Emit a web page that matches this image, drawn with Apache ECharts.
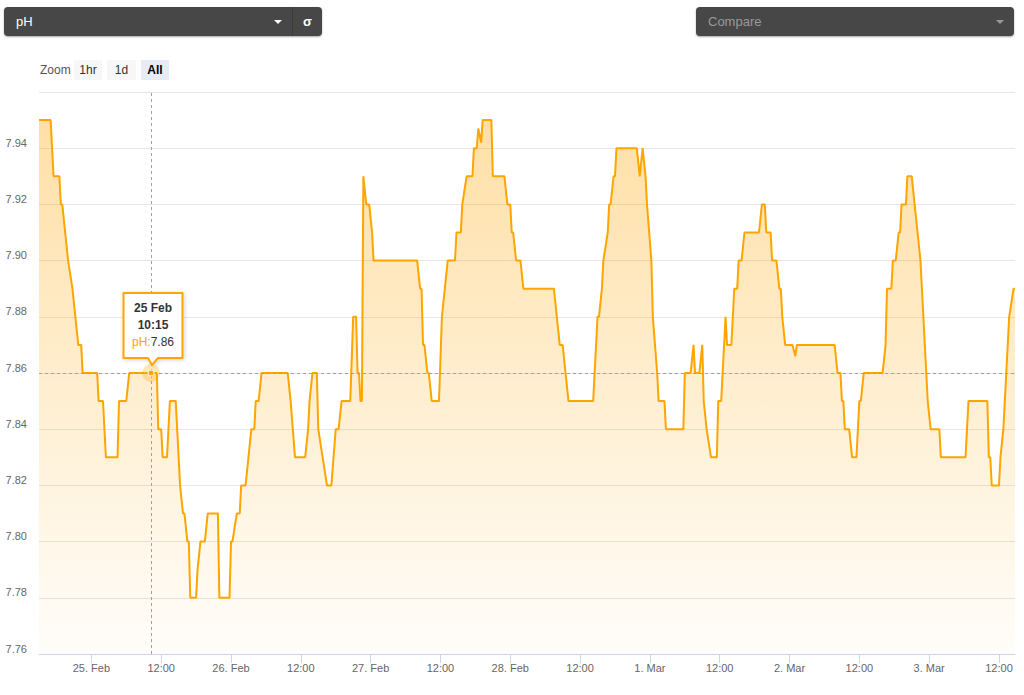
<!DOCTYPE html>
<html>
<head>
<meta charset="utf-8">
<script src="https://cdn.jsdelivr.net/npm/echarts@6/dist/echarts.min.js"></script>
<style>
html,body{margin:0;padding:0;background:#fff;width:1024px;height:695px;overflow:hidden;font-family:"Liberation Sans",Arial,Helvetica,sans-serif;}
#chart{position:absolute;left:0;top:0;width:1024px;height:695px;}
.sel{position:absolute;top:7px;height:29px;width:318px;background:#474747;border-radius:4px;box-shadow:0 1px 2px rgba(0,0,0,0.35);font-size:13px;line-height:29px;z-index:5;}
.sel .txt{position:absolute;left:12px;top:0;}
.caret{position:absolute;top:13px;width:0;height:0;border-left:4px solid transparent;border-right:4px solid transparent;border-top:4px solid #fff;}
.sep{position:absolute;top:0;width:1px;height:29px;background:#3b3b3b;}
.zoomlbl{position:absolute;left:40px;top:62px;font-size:12px;color:#555;z-index:5;line-height:16px;}
.btn{position:absolute;top:60px;height:20px;line-height:20px;font-size:12px;text-align:center;background:#f7f7f7;color:#333;z-index:5;}
</style>
</head>
<body>
<div id="chart"></div>
<div class="sel" style="left:4px;">
  <span class="txt" style="color:#fff;">pH</span>
  <span class="caret" style="left:270px;"></span>
  <span class="sep" style="left:288px;"></span>
  <span style="position:absolute;left:299px;top:0;color:#fff;font-weight:bold;">σ</span>
</div>
<div class="sel" style="left:696px;">
  <span class="txt" style="color:#9a9a9a;">Compare</span>
  <span class="caret" style="left:300px;border-top-color:#9a9a9a;"></span>
</div>
<div class="zoomlbl">Zoom</div>
<div class="btn" style="left:74px;width:28px;">1hr</div>
<div class="btn" style="left:107px;width:29px;">1d</div>
<div class="btn" style="left:141px;width:28px;background:#e6ebf5;color:#000;font-weight:bold;">All</div>
<script>
// ---- data ----
const seriesName = 'pH';
const times = [
'2021-02-24 15:00','2021-02-24 17:00','2021-02-24 17:30','2021-02-24 18:30','2021-02-24 18:45','2021-02-24 19:00','2021-02-24 19:30','2021-02-24 20:00','2021-02-24 20:45','2021-02-24 21:15','2021-02-24 21:45','2021-02-24 22:15','2021-02-24 22:30',
'2021-02-25 01:00','2021-02-25 01:15','2021-02-25 02:00','2021-02-25 02:30','2021-02-25 04:30','2021-02-25 04:45','2021-02-25 06:00','2021-02-25 06:30','2021-02-25 10:15','2021-02-25 11:15','2021-02-25 11:30','2021-02-25 12:00','2021-02-25 12:15','2021-02-25 13:00','2021-02-25 13:30','2021-02-25 14:30','2021-02-25 14:45','2021-02-25 15:15','2021-02-25 15:45','2021-02-25 16:00','2021-02-25 16:30','2021-02-25 16:45','2021-02-25 17:00','2021-02-25 18:00','2021-02-25 18:15','2021-02-25 18:45','2021-02-25 19:30','2021-02-25 20:00','2021-02-25 21:45','2021-02-25 22:00','2021-02-25 23:45',
'2021-02-26 00:00','2021-02-26 00:15','2021-02-26 01:00','2021-02-26 01:30','2021-02-26 01:45','2021-02-26 02:30','2021-02-26 03:00','2021-02-26 03:30','2021-02-26 04:00','2021-02-26 04:15','2021-02-26 04:45','2021-02-26 05:15','2021-02-26 09:45','2021-02-26 10:15','2021-02-26 11:00','2021-02-26 12:45','2021-02-26 13:15','2021-02-26 13:30','2021-02-26 14:00','2021-02-26 14:45','2021-02-26 15:00','2021-02-26 15:45','2021-02-26 16:30','2021-02-26 17:15','2021-02-26 18:00','2021-02-26 18:30','2021-02-26 19:00','2021-02-26 20:30','2021-02-26 21:00','2021-02-26 21:30','2021-02-26 21:45','2021-02-26 22:00','2021-02-26 22:15','2021-02-26 22:30','2021-02-26 22:45','2021-02-26 23:15','2021-02-26 23:45',
'2021-02-27 00:15','2021-02-27 00:30','2021-02-27 08:00','2021-02-27 08:30','2021-02-27 08:45','2021-02-27 09:00','2021-02-27 09:15','2021-02-27 09:45','2021-02-27 10:00','2021-02-27 10:30','2021-02-27 11:45','2021-02-27 12:15','2021-02-27 12:45','2021-02-27 13:15','2021-02-27 14:30','2021-02-27 14:45','2021-02-27 15:30','2021-02-27 15:45','2021-02-27 16:30','2021-02-27 17:30','2021-02-27 17:45','2021-02-27 18:15','2021-02-27 18:30','2021-02-27 19:00','2021-02-27 19:15','2021-02-27 20:45','2021-02-27 21:00','2021-02-27 23:00','2021-02-27 23:30',
'2021-02-28 00:00','2021-02-28 00:15','2021-02-28 00:30','2021-02-28 01:00','2021-02-28 01:45','2021-02-28 02:15','2021-02-28 07:30','2021-02-28 08:30','2021-02-28 09:00','2021-02-28 09:30','2021-02-28 10:00','2021-02-28 14:15','2021-02-28 15:00','2021-02-28 15:15','2021-02-28 15:45','2021-02-28 16:00','2021-02-28 16:45','2021-02-28 17:00','2021-02-28 17:15','2021-02-28 17:45','2021-02-28 18:00','2021-02-28 18:15','2021-02-28 21:45','2021-02-28 22:15','2021-02-28 22:45','2021-02-28 23:15','2021-02-28 23:30',
'2021-03-01 00:15','2021-03-01 00:30','2021-03-01 01:15','2021-03-01 01:30','2021-03-01 02:30','2021-03-01 02:45','2021-03-01 05:45','2021-03-01 06:00','2021-03-01 07:00','2021-03-01 07:30','2021-03-01 07:45','2021-03-01 08:30','2021-03-01 09:00','2021-03-01 09:15','2021-03-01 09:45','2021-03-01 10:30','2021-03-01 11:30','2021-03-01 11:45','2021-03-01 12:15','2021-03-01 12:30','2021-03-01 13:00','2021-03-01 13:15','2021-03-01 14:00','2021-03-01 14:15','2021-03-01 14:30','2021-03-01 15:00','2021-03-01 15:15','2021-03-01 15:45','2021-03-01 16:15','2021-03-01 18:45','2021-03-01 19:15','2021-03-01 19:45','2021-03-01 20:00','2021-03-01 20:45','2021-03-01 21:00','2021-03-01 21:45','2021-03-01 22:15','2021-03-01 22:30','2021-03-01 22:45','2021-03-01 23:15',
'2021-03-02 00:30','2021-03-02 01:00','2021-03-02 01:15','2021-03-02 07:45','2021-03-02 08:15','2021-03-02 08:45','2021-03-02 09:00','2021-03-02 09:15','2021-03-02 09:30','2021-03-02 10:15','2021-03-02 10:45','2021-03-02 11:30','2021-03-02 12:00','2021-03-02 12:15','2021-03-02 12:45','2021-03-02 16:00','2021-03-02 16:30','2021-03-02 16:45','2021-03-02 17:30','2021-03-02 17:45','2021-03-02 18:15','2021-03-02 18:45','2021-03-02 19:00','2021-03-02 19:15','2021-03-02 20:00','2021-03-02 20:15','2021-03-02 21:00','2021-03-02 21:30','2021-03-02 22:00','2021-03-02 22:30','2021-03-02 22:45','2021-03-02 23:00','2021-03-02 23:30','2021-03-02 23:45',
'2021-03-03 00:15','2021-03-03 01:45','2021-03-03 02:00','2021-03-03 06:15','2021-03-03 06:45','2021-03-03 10:00','2021-03-03 10:15','2021-03-03 10:30','2021-03-03 10:45','2021-03-03 12:00','2021-03-03 12:15','2021-03-03 12:45','2021-03-03 13:00','2021-03-03 13:15','2021-03-03 13:45','2021-03-03 14:30','2021-03-03 14:45'
];
const phValues = [
7.95,7.95,7.93,7.93,7.92,7.92,7.91,7.90,7.89,7.88,7.87,7.87,7.86,
7.86,7.85,7.85,7.83,7.83,7.85,7.85,7.86,7.86,7.86,7.84,7.84,7.83,7.83,7.85,7.85,7.84,7.82,7.81,7.81,7.80,7.80,7.78,7.78,7.79,7.80,7.80,7.81,7.81,7.78,7.78,
7.80,7.80,7.81,7.81,7.82,7.82,7.83,7.84,7.84,7.85,7.85,7.86,7.86,7.85,7.83,7.83,7.84,7.85,7.86,7.86,7.84,7.83,7.82,7.82,7.84,7.84,7.85,7.85,7.88,7.88,7.86,7.86,7.85,7.85,7.93,7.92,7.92,
7.91,7.90,7.90,7.89,7.89,7.87,7.87,7.86,7.86,7.85,7.85,7.88,7.89,7.90,7.90,7.91,7.91,7.92,7.93,7.93,7.94,7.94,7.947,7.942,7.95,7.95,7.93,7.93,7.92,
7.92,7.91,7.91,7.90,7.90,7.89,7.89,7.87,7.87,7.86,7.85,7.85,7.88,7.88,7.89,7.90,7.91,7.92,7.92,7.93,7.93,7.94,7.94,7.93,7.94,7.93,7.92,
7.90,7.88,7.86,7.85,7.85,7.84,7.84,7.86,7.86,7.87,7.86,7.86,7.87,7.85,7.84,7.83,7.83,7.85,7.85,7.86,7.88,7.87,7.87,7.88,7.89,7.89,7.90,7.90,7.91,7.91,7.92,7.92,7.91,7.91,7.90,7.90,7.89,7.89,7.88,7.87,
7.87,7.866,7.87,7.87,7.86,7.86,7.85,7.85,7.84,7.84,7.83,7.83,7.85,7.85,7.86,7.86,7.87,7.89,7.89,7.90,7.90,7.91,7.91,7.92,7.92,7.93,7.93,7.92,7.91,7.90,7.89,7.88,7.86,7.85,
7.84,7.84,7.83,7.83,7.85,7.85,7.83,7.83,7.82,7.82,7.83,7.84,7.85,7.86,7.88,7.89,7.89
];
const yTicks = [7.76,7.78,7.80,7.82,7.84,7.86,7.88,7.90,7.92,7.94,7.96];
const monthNames = ['Jan','Feb','Mar','Apr','May','Jun','Jul','Aug','Sep','Oct','Nov','Dec'];
const tipTime = '2021-02-25 10:15';
const tipValue = 7.86;

// ---- helpers ----
function ts(s){ const [d,t] = s.split(' '); const [Y,M,D] = d.split('-').map(Number); const [h,m] = t.split(':').map(Number); return new Date(Y,M-1,D,h,m).getTime(); }
function pad(n){ return (n<10?'0':'')+n; }
const FONT = '"Liberation Sans", Arial, Helvetica, sans-serif';
const data = times.map((t,i)=>[ts(t), phValues[i]]);
const tipTs = ts(tipTime);
const HOUR = 3600*1000;

const chart = echarts.init(document.getElementById('chart'), null, {renderer:'svg', width:1024, height:695});
chart.setOption({
  animation:false,
  backgroundColor:'transparent',
  textStyle:{fontFamily:FONT},
  grid:{left:39, right:9, top:92, bottom:41, containLabel:false, outerBoundsMode:'none'},
  xAxis:{
    type:'time',
    min: data[0][0],
    max: data[data.length-1][0],
    splitNumber: 13,
    minInterval: 13*HOUR,
    maxInterval: 13*HOUR,
    axisLine:{show:true, lineStyle:{color:'#ccd6eb', width:1}},
    axisTick:{show:true, length:9, lineStyle:{color:'#ccd6eb'}},
    splitLine:{show:false},
    axisLabel:{
      color:'#666', fontSize:11, fontFamily:FONT, margin:8, hideOverlap:false,
      showMinLabel:false, showMaxLabel:false,
      formatter:function(v){ const d=new Date(v); if(d.getHours()===0 && d.getMinutes()===0) return d.getDate()+'. '+monthNames[d.getMonth()]; return pad(d.getHours())+':'+pad(d.getMinutes()); }
    }
  },
  yAxis:{
    type:'value',
    min: yTicks[0], max: yTicks[yTicks.length-1], interval: 0.02,
    axisLine:{show:false}, axisTick:{show:false},
    splitLine:{show:true, lineStyle:{color:'#e6e6e6', width:1}},
    axisLabel:{
      color:'#666', fontSize:11, fontFamily:FONT, margin:12, verticalAlign:'bottom', lineHeight:11,
      formatter:function(v){ return v > 7.955 ? '' : v.toFixed(2); }
    }
  },
  series:[{
    name: seriesName,
    type:'line',
    data: data,
    showSymbol:false,
    symbol:'none',
    lineStyle:{color:'#ffa500', width:2},
    itemStyle:{color:'#ffa500'},
    areaStyle:{
      color: new echarts.graphic.LinearGradient(0,0,0,1,[
        {offset:0, color:'rgba(255,165,0,0.5)'},
        {offset:1, color:'rgba(255,165,0,0.03)'}
      ])
    },
    markLine:{
      silent:true, animation:false,
      symbol:['none','none'],
      label:{show:false},
      lineStyle:{color:'#a0a0a0', width:1, type:[3,3]},
      data:[{xAxis: tipTs}, {yAxis: tipValue}]
    }
  }]
});

const p = chart.convertToPixel({seriesIndex:0}, [tipTs, tipValue]);
const cx = p[0], cy = p[1];
const bx = cx + 2;
const L = bx - 29.5, R = bx + 29.5, T = cy - 80, B = cy - 15;
const td = new Date(tipTs);
const tipLine1 = td.getDate() + ' ' + monthNames[td.getMonth()];
const tipLine2 = pad(td.getHours()) + ':' + pad(td.getMinutes());
chart.setOption({
  graphic:[
    {type:'circle', silent:true, z:100, shape:{cx:cx, cy:cy, r:9}, style:{fill:'rgba(255,165,0,0.25)'}},
    {type:'circle', silent:true, z:101, shape:{cx:cx, cy:cy, r:3}, style:{fill:'#ffa500', stroke:'#ffffff', lineWidth:1}},
    {type:'polygon', silent:true, z:102, shape:{points:[[L,T],[R,T],[R,B],[bx+5,B],[cx+1,cy-8],[bx-5,B],[L,B]]},
      style:{fill:'rgba(255,255,255,0.97)', stroke:'#ffa500', lineWidth:2, lineJoin:'round', shadowBlur:4, shadowColor:'rgba(0,0,0,0.18)', shadowOffsetX:1, shadowOffsetY:1}},
    {type:'text', silent:true, z:103, x:bx, y:cy-65, style:{text:tipLine1, align:'center', verticalAlign:'middle', font:'bold 12px '+FONT, fill:'#333'}},
    {type:'text', silent:true, z:103, x:bx, y:cy-48, style:{text:tipLine2, align:'center', verticalAlign:'middle', font:'bold 12px '+FONT, fill:'#333'}},
    {type:'text', silent:true, z:103, x:bx, y:cy-31, style:{
      text:'{a|' + seriesName + ':}{b|' + tipValue.toFixed(2) + '}', align:'center', verticalAlign:'middle',
      rich:{a:{fill:'#ffa500', font:'12px '+FONT}, b:{fill:'#333', font:'12px '+FONT}}
    }}
  ]
});
</script>
</body>
</html>
